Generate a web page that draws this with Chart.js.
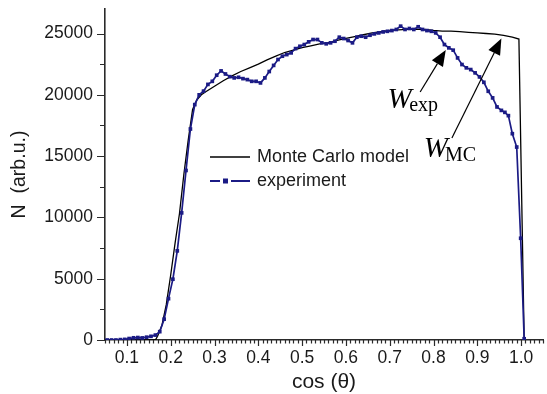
<!DOCTYPE html>
<html><head><meta charset="utf-8">
<script src="https://cdn.jsdelivr.net/npm/chart.js@4.4.1/dist/chart.umd.min.js"></script>
<style>html,body{margin:0;padding:0;background:#fff}#wrap{width:547px;height:394px;position:relative}</style>
</head><body><div id="wrap"><canvas id="c" width="547" height="394"></canvas></div>
<script>
// ---- data ----
const seriesNames = ['Monte Carlo model', 'experiment'];
const axisTitleX = 'cos (\u03b8)';
const axisTitleY = 'N  (arb.u.)';
const xTicks = [0.1,0.2,0.3,0.4,0.5,0.6,0.7,0.8,0.9,1.0];
const yTicks = [0,5000,10000,15000,20000,25000];

const mcX = [0.05,0.10,0.165,0.17,0.18,0.19,0.20,0.21,0.22,0.23,0.24,0.25,0.26,0.27,0.28,0.30,0.32,0.34,0.36,0.38,0.40,0.42,0.44,0.46,0.48,0.50,0.52,0.54,0.56,0.58,0.60,0.62,0.64,0.66,0.68,0.70,0.72,0.74,0.76,0.78,0.80,0.82,0.84,0.86,0.88,0.90,0.92,0.94,0.96,0.98,0.995,1.007];
const mcN = [0,0,0,300,1200,2900,5300,7900,10300,13500,16300,18800,19600,20000,20250,20700,21150,21550,21900,22200,22500,22850,23150,23450,23650,23850,24000,24150,24250,24450,24600,24750,24900,25050,25150,25250,25300,25330,25330,25330,25250,25200,25200,25150,25100,25050,25000,24950,24850,24700,24550,0];

const expX = [0.055,0.065,0.075,0.085,0.095,0.105,0.115,0.125,0.135,0.145,0.155,0.165,0.175,0.185,0.195,0.205,0.215,0.225,0.235,0.245,0.255,0.265,0.275,0.285,0.295,0.305,0.315,0.325,0.335,0.345,0.355,0.365,0.375,0.385,0.395,0.405,0.415,0.425,0.435,0.445,0.455,0.465,0.475,0.485,0.495,0.505,0.515,0.525,0.535,0.545,0.555,0.565,0.575,0.585,0.595,0.605,0.615,0.625,0.635,0.645,0.655,0.665,0.675,0.685,0.695,0.705,0.715,0.725,0.735,0.745,0.755,0.765,0.775,0.785,0.795,0.805,0.815,0.825,0.835,0.845,0.855,0.865,0.875,0.885,0.895,0.905,0.915,0.925,0.935,0.945,0.955,0.963,0.971,0.980,0.990,0.999,1.007];
const expN = [0,0,0,30,50,120,180,200,170,230,300,400,680,1700,3370,4960,7270,10370,13830,17210,19200,20000,20300,20850,21100,21600,21950,21700,21480,21380,21430,21320,21240,21100,21100,20970,21380,21900,22400,22880,23150,23280,23420,23770,23960,24100,24320,24510,24510,24240,24160,24240,24370,24700,24590,24430,24240,24700,24780,24700,24860,24970,25050,25130,25180,25240,25330,25600,25330,25410,25330,25550,25330,25240,25180,25050,24700,24100,23830,23640,23010,22470,22200,22060,21790,21460,21020,20290,19750,19010,18730,18570,18300,16830,15740,8300,100];

// annotations (data coordinates)
const annotations = [
  {main:'W', sub:'exp', at:[0.695,18965], subAt:[0.7446,18700], tail:[0.7695,20230], tip:[0.828,23655]},
  {main:'W', sub:'MC',  at:[0.778,14952], subAt:[0.826,14601], tail:[0.842,16477], tip:[0.955,24594]}
];

// ---- styles ----
const AXIS = '#2a2a2a';
const TEXT = '#1a1a1a';
const BLUE = '#1b1b85';
const SANS = '"Liberation Sans", Arial, sans-serif';
const SERIF = '"Liberation Serif", "Times New Roman", serif';

const toPts = (xs, ys) => xs.map((v, i) => ({x: v, y: ys[i]}));
const noPad = s => { s.paddingTop = 0; s.paddingBottom = 0; s.paddingLeft = 0; s.paddingRight = 0; };

const ticksPlugin = {
  id: 'minorTicks',
  afterDraw(chart) {
    const {ctx, scales: {x, y}, chartArea: a} = chart;
    ctx.save();
    ctx.strokeStyle = AXIS;
    ctx.lineWidth = 1.2;
    ctx.beginPath();
    for (let i = 5; i <= 105; i++) {
      const px = Math.round(x.getPixelForValue(i / 100)) + 0.5;
      if (px > a.right + 1) break;
      const major = i % 10 === 0;
      ctx.moveTo(px, a.bottom);
      ctx.lineTo(px, a.bottom + (major ? 6 : 3.5));
    }
    for (let i = 0; i <= 10; i++) {
      const py = Math.round(y.getPixelForValue(i * 2500)) + 0.5;
      const major = i % 2 === 0;
      ctx.moveTo(a.left, py);
      ctx.lineTo(a.left - (major ? 8 : 5), py);
    }
    ctx.stroke();
    ctx.restore();
  }
};

const legendPlugin = {
  id: 'innerLegend',
  afterDraw(chart) {
    const {ctx} = chart;
    const ds = chart.data.datasets;
    ctx.save();
    ctx.font = '18px ' + SANS;
    ctx.fillStyle = TEXT;
    ctx.textBaseline = 'middle';
    let yy = 157;
    ctx.strokeStyle = ds[0].borderColor; ctx.lineWidth = 1.3;
    ctx.beginPath(); ctx.moveTo(210, yy); ctx.lineTo(250, yy); ctx.stroke();
    ctx.fillText(ds[0].label, 257, yy);
    yy = 181;
    ctx.strokeStyle = ds[1].borderColor; ctx.lineWidth = 1.8;
    ctx.beginPath(); ctx.moveTo(210, yy); ctx.lineTo(220, yy); ctx.moveTo(231, yy); ctx.lineTo(250, yy); ctx.stroke();
    ctx.fillStyle = ds[1].borderColor;
    ctx.fillRect(223, yy - 2.5, 5, 5);
    ctx.fillStyle = TEXT;
    ctx.fillText(ds[1].label, 257, yy);
    ctx.restore();
  }
};

const annotPlugin = {
  id: 'arrows',
  afterDraw(chart) {
    const {ctx, scales: {x, y}} = chart;
    ctx.save();
    annotations.forEach(an => {
      const tx = x.getPixelForValue(an.tail[0]), ty = y.getPixelForValue(an.tail[1]);
      const hx = x.getPixelForValue(an.tip[0]), hy = y.getPixelForValue(an.tip[1]);
      const ang = Math.atan2(hy - ty, hx - tx);
      const L = 16, W = 6.5;
      const bx = hx - L * Math.cos(ang), by = hy - L * Math.sin(ang);
      ctx.strokeStyle = '#000'; ctx.lineWidth = 1.2;
      ctx.beginPath(); ctx.moveTo(tx, ty); ctx.lineTo(bx, by); ctx.stroke();
      ctx.fillStyle = '#000';
      ctx.beginPath();
      ctx.moveTo(hx, hy);
      ctx.lineTo(bx + W * Math.sin(ang), by - W * Math.cos(ang));
      ctx.lineTo(bx - W * Math.sin(ang), by + W * Math.cos(ang));
      ctx.closePath(); ctx.fill();
      ctx.textBaseline = 'alphabetic';
      ctx.font = 'italic 29px ' + SERIF;
      ctx.fillText(an.main, x.getPixelForValue(an.at[0]), y.getPixelForValue(an.at[1]));
      ctx.font = '20px ' + SERIF;
      ctx.fillText(an.sub, x.getPixelForValue(an.subAt[0]), y.getPixelForValue(an.subAt[1]));
    });
    ctx.restore();
  }
};

new Chart(document.getElementById('c'), {
  type: 'line',
  data: {
    datasets: [
      {label: seriesNames[0], data: toPts(mcX, mcN), borderColor: '#000000', borderWidth: 1.3,
       pointRadius: 0, tension: 0, order: 1},
      {label: seriesNames[1], data: toPts(expX, expN), borderColor: BLUE, backgroundColor: BLUE,
       borderWidth: 1.7, pointStyle: 'rect', pointRadius: 2.6, pointBorderWidth: 0, tension: 0, order: 0}
    ]
  },
  options: {
    responsive: false,
    animation: false,
    devicePixelRatio: 1,
    layout: {padding: {left: 0, right: 0, top: 9, bottom: 0}},
    plugins: {legend: {display: false}, tooltip: {enabled: false}},
    scales: {
      x: {
        type: 'linear', position: 'bottom', min: 0.05, max: 1.05,
        afterBuildTicks: s => { s.ticks = xTicks.map(v => ({value: v})); },
        afterFit: s => { s.height = 54; noPad(s); },
        grid: {display: false, drawTicks: false},
        border: {display: true, color: AXIS, width: 1.6},
        ticks: {color: TEXT, font: {family: SANS, size: 17.5}, padding: 8,
                maxRotation: 0, autoSkip: false, callback: v => Number(v).toFixed(1)},
        title: {display: true, text: axisTitleX, color: TEXT,
                font: {family: SANS, size: 21, lineHeight: 1.0}, padding: {top: 0, bottom: 1}}
      },
      y: {
        type: 'linear', position: 'left', min: 0, max: 27000,
        afterBuildTicks: s => { s.ticks = yTicks.map(v => ({value: v})); },
        afterFit: s => { s.width = 105; noPad(s); },
        grid: {display: false, drawTicks: false},
        border: {display: true, color: AXIS, width: 1.6},
        ticks: {color: TEXT, font: {family: SANS, size: 17.5}, padding: 12, autoSkip: false,
                callback: v => String(v)},
        title: {display: true, text: axisTitleY, color: TEXT,
                font: {family: SANS, size: 19.5, lineHeight: 1.2}, padding: {top: 8, bottom: 0}}
      }
    }
  },
  plugins: [ticksPlugin, legendPlugin, annotPlugin]
});
</script>
</body></html>
